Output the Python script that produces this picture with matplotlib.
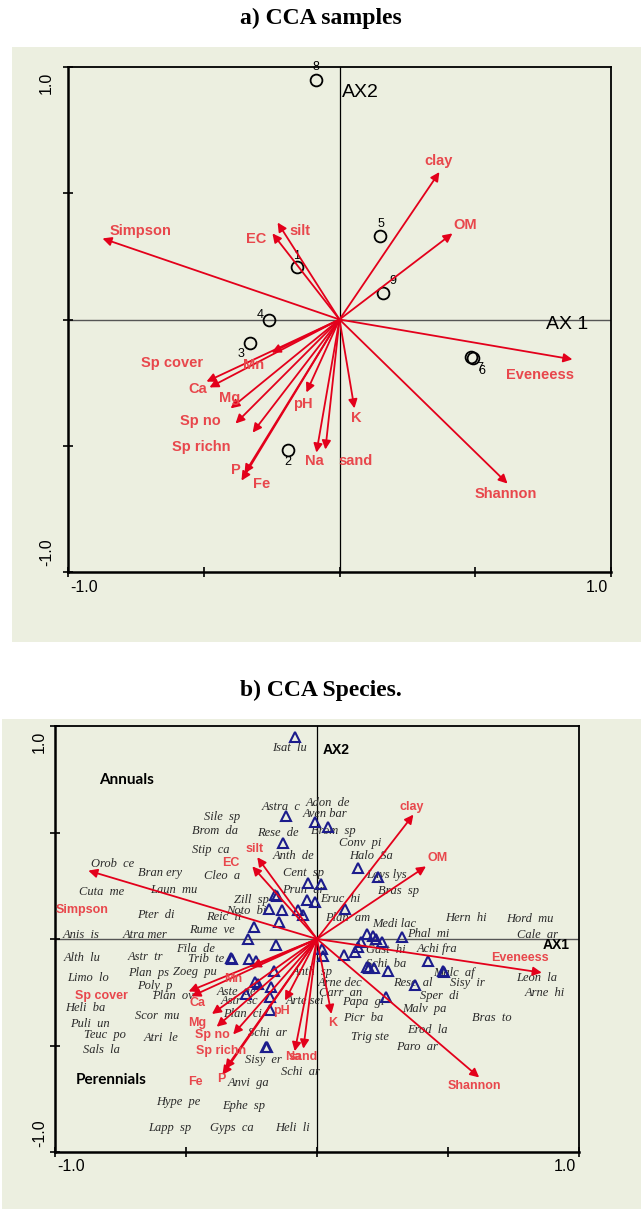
import matplotlib.pyplot as plt
from matplotlib.patches import Rectangle

# environmental / diversity vectors (same scores in both panels)
env_names = ['Simpson', 'EC', 'silt', 'clay', 'OM', 'Eveneess', 'Shannon', 'K', 'sand', 'Na',
             'pH', 'Fe', 'P', 'Sp richn', 'Sp no', 'Mg', 'Ca', 'Sp cover', 'Mn']
env_ax1 = [-0.873, -0.247, -0.228, 0.368, 0.416, 0.858, 0.619, 0.055, -0.052, -0.085,
           -0.122, -0.361, -0.350, -0.320, -0.383, -0.401, -0.479, -0.490, -0.250]
env_ax2 = [0.321, 0.341, 0.384, 0.584, 0.341, -0.158, -0.650, -0.352, -0.515, -0.527,
           -0.289, -0.638, -0.610, -0.448, -0.412, -0.352, -0.269, -0.246, -0.131]

# sample scores
sample_ids = ['1', '2', '3', '4', '5', '6', '7', '8', '9']
sample_ax1 = [-0.158, -0.190, -0.328, -0.260, 0.151, 0.490, 0.486, -0.085, 0.162]
sample_ax2 = [0.206, -0.515, -0.095, 0.000, 0.329, -0.154, -0.150, 0.947, 0.103]

# species scores (triangles)
tri_ax1 = [-0.084, -0.118, -0.008, 0.042, -0.130, -0.034, 0.015, -0.160, -0.153, -0.038,
           -0.008, -0.183, -0.134, -0.073, -0.053, -0.145, -0.240, -0.263, -0.156, 0.019,
           0.023, 0.107, 0.156, 0.233, 0.191, 0.214, 0.225, 0.248, 0.324, 0.168,
           0.156, 0.145, 0.103, 0.424, 0.191, 0.198, 0.218, 0.271, 0.485, 0.481,
           0.374, 0.263, -0.324, -0.328, -0.260, -0.233, -0.164, -0.237, -0.225, -0.176,
           -0.271, -0.179, -0.179, -0.191, -0.195]
tri_ax2 = [0.949, 0.579, 0.547, 0.528, 0.453, 0.262, 0.257, 0.206, 0.201, 0.182,
           0.173, 0.140, 0.136, 0.136, 0.112, 0.079, 0.056, 0.000, -0.028, -0.047,
           -0.079, 0.140, 0.332, 0.290, 0.023, 0.014, 0.000, -0.014, 0.009, -0.014,
           -0.037, -0.061, -0.075, -0.103, -0.131, -0.136, -0.136, -0.150, -0.154, -0.150,
           -0.215, -0.271, -0.093, -0.089, -0.093, -0.103, -0.150, -0.201, -0.210, -0.224,
           -0.257, -0.271, -0.332, -0.509, -0.505]

# species names as placed on panel b (left edge of label)
sp_names = ['Isat  lu', 'Astra  c', 'Adon  de', 'Aven bar', 'Sile  sp', 'Brom  da', 'Rese  de',
            'Brom  sp', 'Stip  ca', 'Anth  de', 'Orob  ce', 'Bran ery', 'Cleo  a', 'Cent  sp',
            'Cuta  me', 'Laun  mu', 'Prun  ar', 'Zill  sp', 'Eruc  hi', 'Pter  di', 'Noto  bi',
            'Reic  ii', 'Plan  am', 'Rume  ve', 'Anis  is', 'Atra mer', 'Medi lac', 'Hern  hi',
            'Hord  mu', 'Conv  pi', 'Halo  Sa', 'Lays lys', 'Bras  sp', 'Phal  mi', 'Cale  ar',
            'Fila  de', 'Alth  lu', 'Astr  tr', 'Trib  te', 'Limo  lo', 'Plan  ps', 'Zoeg  pu',
            'Poly  p', 'Plan  ov', 'Aste  ae', 'Astr  sc', 'Anth  sp', 'Arne dec', 'Carr  an',
            'Arte sei', 'Heli  ba', 'Scor  mu', 'Plan  ci', 'Puli  un', 'Schi  ar', 'Teuc  po',
            'Atri  le', 'Sals  la', 'Sisy  er', 'Schi  ar', 'Anvi  ga', 'Hype  pe', 'Ephe  sp',
            'Lapp  sp', 'Gyps  ca', 'Heli  li', 'Gast  hi', 'Achi fra', 'Schi  ba', 'Malc  af',
            'Rese  al', 'Sisy  ir', 'Leon  la', 'Arne  hi', 'Sper  di', 'Papa  gi', 'Malv  pa',
            'Picr  ba', 'Bras  to', 'Erod  la', 'Trig ste', 'Paro  ar']
sp_lab_x = [-0.172, -0.210, -0.042, -0.053, -0.431, -0.477, -0.229, -0.023, -0.477, -0.168,
            -0.863, -0.683, -0.431, -0.130, -0.908, -0.637, -0.134, -0.317, 0.011, -0.687,
            -0.347, -0.424, 0.031, -0.489, -0.969, -0.740, 0.210, 0.489, 0.721, 0.084,
            0.122, 0.187, 0.233, 0.344, 0.763, -0.538, -0.966, -0.721, -0.492, -0.954,
            -0.721, -0.550, -0.687, -0.630, -0.382, -0.366, -0.095, 0.004, 0.008, -0.118,
            -0.962, -0.695, -0.359, -0.943, -0.263, -0.889, -0.660, -0.893, -0.275, -0.137,
            -0.340, -0.615, -0.363, -0.645, -0.408, -0.160, 0.187, 0.382, 0.187, 0.443,
            0.290, 0.508, 0.760, 0.794, 0.393, 0.095, 0.324, 0.099, 0.592, 0.344,
            0.130, 0.302]
sp_lab_y = [0.897, 0.621, 0.640, 0.589, 0.575, 0.509, 0.500, 0.505, 0.416, 0.388,
            0.350, 0.308, 0.294, 0.308, 0.220, 0.229, 0.229, 0.182, 0.187, 0.112,
            0.131, 0.103, 0.098, 0.042, 0.019, 0.019, 0.070, 0.098, 0.093, 0.449,
            0.388, 0.299, 0.224, 0.023, 0.019, -0.047, -0.089, -0.084, -0.093, -0.182,
            -0.159, -0.154, -0.220, -0.266, -0.248, -0.290, -0.154, -0.206, -0.252, -0.290,
            -0.322, -0.360, -0.350, -0.397, -0.439, -0.453, -0.467, -0.523, -0.570, -0.626,
            -0.678, -0.766, -0.785, -0.888, -0.888, -0.888, -0.051, -0.047, -0.117, -0.159,
            -0.206, -0.206, -0.182, -0.252, -0.266, -0.294, -0.327, -0.369, -0.369, -0.425,
            -0.458, -0.505]

# label placement (centre of each vector label) for the two panels
lab_a = {'Simpson': (-0.733, 0.349), 'EC': (-0.306, 0.317), 'silt': (-0.144, 0.352),
         'clay': (0.365, 0.626), 'OM': (0.464, 0.376), 'Eveneess': (0.737, -0.218),
         'Shannon': (0.611, -0.693), 'K': (0.063, -0.392), 'sand': (0.059, -0.562),
         'Na': (-0.092, -0.562), 'pH': (-0.136, -0.333), 'Fe': (-0.287, -0.653),
         'P': (-0.383, -0.598), 'Sp richn': (-0.508, -0.503), 'Sp no': (-0.512, -0.400),
         'Mg': (-0.405, -0.309), 'Ca': (-0.523, -0.277), 'Sp cover': (-0.615, -0.174),
         'Mn': (-0.317, -0.182)}
lab_b = {'Simpson': (-0.897, 0.136), 'EC': (-0.328, 0.355), 'silt': (-0.237, 0.421),
         'clay': (0.363, 0.621), 'OM': (0.462, 0.379), 'Eveneess': (0.775, -0.089),
         'Shannon': (0.599, -0.692), 'K': (0.061, -0.393), 'sand': (-0.053, -0.556),
         'Na': (-0.092, -0.556), 'pH': (-0.137, -0.336), 'Fe': (-0.466, -0.673),
         'P': (-0.366, -0.659), 'Sp richn': (-0.366, -0.528), 'Sp no': (-0.401, -0.453),
         'Mg': (-0.458, -0.393), 'Ca': (-0.458, -0.299), 'Sp cover': (-0.821, -0.266),
         'Mn': (-0.321, -0.187)}
sample_off = {'1': (0, 11), '2': (0, -12), '3': (-9, -11), '4': (-9, 4), '5': (0, 12),
              '6': (9, -13), '7': (8, -11), '8': (0, 13), '9': (9, 12)}

BG = '#ECEFE0'
ARROW = '#E3001B'
LABEL = '#E8474C'

fig = plt.figure(figsize=(6.41, 12.09), dpi=100)
fig.patches.append(Rectangle((12 / 641, 1 - 642 / 1209), 1, 595 / 1209,
                             transform=fig.transFigure, facecolor=BG, edgecolor='none', zorder=-1))
fig.patches.append(Rectangle((2 / 641, 0), 1, 1 - 719 / 1209,
                             transform=fig.transFigure, facecolor=BG, edgecolor='none', zorder=-1))

fig.text(0.5, 1 - 18 / 1209, 'a) CCA samples', ha='center', va='center',
         family='Liberation Serif', weight='bold', fontsize=17)
fig.text(0.5, 1 - 690 / 1209, 'b) CCA Species.', ha='center', va='center',
         family='Liberation Serif', weight='bold', fontsize=17)


def frame(ax, xlab_off, ylab_off):
    ax.set_facecolor(BG)
    ax.set_xlim(-1, 1)
    ax.set_ylim(-1, 1)
    ax.axhline(0, color='#555555', lw=1.0, zorder=1)
    ax.axvline(0, color='black', lw=0.9, zorder=1)
    ax.set_xticks([-1, -0.5, 0, 0.5, 1])
    ax.set_yticks([-1, -0.5, 0, 0.5, 1])
    ax.set_xticklabels([])
    ax.set_yticklabels([])
    ax.tick_params(direction='inout', length=7, width=1.2, top=False, right=False)
    for s in ['left', 'bottom']:
        ax.spines[s].set_linewidth(1.8)
    for s in ['top', 'right']:
        ax.spines[s].set_linewidth(1.3)
    kw = dict(transform=ax.transAxes, family='Liberation Sans', fontsize=11.5)
    ax.text(0.005, xlab_off, '-1.0', ha='left', va='center', **kw)
    ax.text(0.995, xlab_off, '1.0', ha='right', va='center', **kw)
    ax.text(ylab_off, 0.99, '1.0', rotation=90, ha='center', va='top', **kw)
    ax.text(ylab_off, 0.012, '-1.0', rotation=90, ha='center', va='bottom', **kw)


def vectors(ax, labels, fs):
    for name, x, y in zip(env_names, env_ax1, env_ax2):
        ax.annotate('', xy=(x, y), xytext=(0, 0),
                    arrowprops=dict(arrowstyle='-|>', color=ARROW, lw=1.3,
                                    mutation_scale=13, shrinkA=0, shrinkB=0), zorder=4)
        lx, ly = labels[name]
        ax.text(lx, ly, name, color=LABEL, ha='center', va='center', fontsize=fs,
                family='Liberation Sans', weight='bold', zorder=5)


# ---- panel a: samples
ax1 = fig.add_axes([68 / 641, 1 - 572 / 1209, 543 / 641, 505 / 1209])
frame(ax1, -0.03, -0.04)
vectors(ax1, lab_a, 10.5)
ax1.plot(sample_ax1, sample_ax2, 'o', ms=8.5, mfc='none', mec='black', mew=1.3, zorder=3)
for sid, x, y in zip(sample_ids, sample_ax1, sample_ax2):
    ax1.annotate(sid, (x, y), xytext=sample_off[sid], textcoords='offset pixels',
                 ha='center', va='center', fontsize=9, family='Liberation Sans')
ax1.text(0.008, 0.9, 'AX2', ha='left', va='center', fontsize=14, family='Liberation Sans')
ax1.text(0.76, -0.02, 'AX 1', ha='left', va='center', fontsize=14, family='Liberation Sans')

# ---- panel b: species
ax2 = fig.add_axes([55 / 641, 1 - 1152 / 1209, 524 / 641, 426 / 1209])
frame(ax2, -0.035, -0.03)
vectors(ax2, lab_b, 9)
ax2.plot(tri_ax1, tri_ax2, '^', ms=6.5, mfc='none', mec='#1C1C8C', mew=1.5, zorder=3)
for name, x, y in zip(sp_names, sp_lab_x, sp_lab_y):
    ax2.text(x, y, name, ha='left', va='center', fontsize=9, style='italic',
             family='Liberation Serif', color='#2A2A2A', zorder=2)
ax2.text(0.02, 0.885, 'AX2', ha='left', va='center', fontsize=10, weight='bold',
         family='Liberation Sans')
ax2.text(0.86, -0.03, 'AX1', ha='left', va='center', fontsize=10, weight='bold',
         family='Liberation Sans')
ax2.text(-0.833, 0.748, 'Annuals', ha='left', va='center', fontsize=11, weight='bold',
         family='Lato')
ax2.text(-0.92, -0.664, 'Perennials', ha='left', va='center', fontsize=11, weight='bold',
         family='Lato')

fig.savefig('out.png', dpi=100)
